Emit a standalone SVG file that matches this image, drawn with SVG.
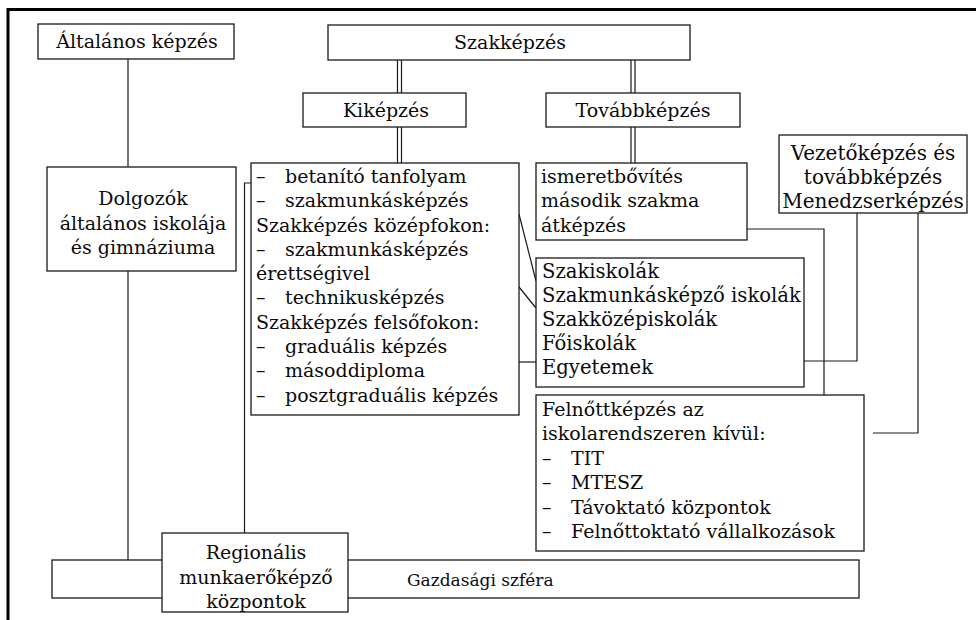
<svg xmlns="http://www.w3.org/2000/svg" width="976" height="620" viewBox="0 0 976 620">
<style>
.box{fill:#fff;stroke:#1a1a1a;stroke-width:1.3}
.ln{fill:none;stroke:#1a1a1a;stroke-width:1.2}
.frame{fill:none;stroke:#000;stroke-width:3}
text{font-family:"DejaVu Serif","Liberation Serif",serif;font-size:19px;fill:#0a0a0a}
.c{text-anchor:middle}
.l{font-size:20px}
.m{font-size:19.6px}
.s{font-size:17px}
</style>
<rect width="976" height="620" fill="#fff"/>
<path class="frame" d="M8,620 V9.5 H976"/>
<g id="connectors">
<path class="ln" d="M128,59 V167"/>
<path class="ln" d="M128,271 V560"/>
<path class="ln" d="M252,183 H244.5 V533"/>
<path class="ln" d="M397.5,60 V93 M401.5,60 V93"/>
<path class="ln" d="M397.5,127 V163 M401.5,127 V163"/>
<path class="ln" d="M631,60 V93 M635,60 V93"/>
<path class="ln" d="M631,127 V163 M635,127 V163"/>
<path class="ln" d="M519,214 L536,281"/>
<path class="ln" d="M519,287 L536,308"/>
<path class="ln" d="M519,362 H536"/>
<path class="ln" d="M747,229 H824 V395"/>
<path class="ln" d="M857,213 V361 H804"/>
<path class="ln" d="M918,213 V433 H873"/>
</g>
<g id="altalanos">
<rect class="box" x="38" y="24" width="196" height="35"/>
<text class="c" x="137" y="48">Általános képzés</text>
</g>
<g id="szakkepzes">
<rect class="box" x="328" y="25" width="362" height="35"/>
<text class="c" x="510" y="49">Szakképzés</text>
</g>
<g id="kikepzes">
<rect class="box" x="303" y="93" width="163" height="34"/>
<text class="c" x="386" y="117">Kiképzés</text>
</g>
<g id="tovabbkepzes">
<rect class="box" x="546" y="93" width="194" height="34"/>
<text class="c" x="643" y="117">Továbbképzés</text>
</g>
<g id="dolgozok">
<rect class="box" x="47" y="167" width="189" height="104"/>
<text class="c" x="143" y="205">Dolgozók</text>
<text class="c" x="143" y="230">általános iskolája</text>
<text class="c" x="143" y="254">és gimnáziuma</text>
</g>
<g id="kikepzes-lista">
<rect class="box" x="251" y="163" width="268" height="252"/>
<text x="256" y="183">–<tspan x="285">betanító tanfolyam</tspan></text>
<text x="256" y="207">–<tspan x="285">szakmunkásképzés</tspan></text>
<text x="256" y="232">Szakképzés középfokon:</text>
<text x="256" y="256">–<tspan x="285">szakmunkásképzés</tspan></text>
<text x="256" y="280">érettségivel</text>
<text x="256" y="304">–<tspan x="285">technikusképzés</tspan></text>
<text x="256" y="329">Szakképzés felsőfokon:</text>
<text x="256" y="353">–<tspan x="285">graduális képzés</tspan></text>
<text x="256" y="377">–<tspan x="285">másoddiploma</tspan></text>
<text x="256" y="402">–<tspan x="285">posztgraduális képzés</tspan></text>
</g>
<g id="tovabbkepzes-lista">
<rect class="box" x="536" y="163" width="211" height="77"/>
<text x="541" y="183">ismeretbővítés</text>
<text x="541" y="207">második szakma</text>
<text x="541" y="232">átképzés</text>
</g>
<g id="vezetokepzes">
<rect class="box" x="779" y="135" width="188" height="78"/>
<text class="c l" x="873" y="160">Vezetőképzés és</text>
<text class="c l" x="873" y="184">továbbképzés</text>
<text class="c l" x="873" y="208">Menedzserképzés</text>
</g>
<g id="iskolak">
<rect class="box" x="536" y="258" width="268" height="129"/>
<text class="m" x="542" y="278">Szakiskolák</text>
<text class="m" x="542" y="302">Szakmunkásképző iskolák</text>
<text class="m" x="542" y="326">Szakközépiskolák</text>
<text class="m" x="542" y="350">Főiskolák</text>
<text class="m" x="542" y="374">Egyetemek</text>
</g>
<g id="felnottkepzes">
<rect class="box" x="536" y="395" width="328" height="156"/>
<text x="542" y="416">Felnőttképzés az</text>
<text x="542" y="440">iskolarendszeren kívül:</text>
<text x="542" y="465">–<tspan x="571">TIT</tspan></text>
<text x="542" y="489">–<tspan x="571">MTESZ</tspan></text>
<text x="542" y="514">–<tspan x="571">Távoktató központok</tspan></text>
<text x="542" y="538">–<tspan x="571">Felnőttoktató vállalkozások</tspan></text>
</g>
<g id="gazdasagi">
<rect class="box" x="52" y="560" width="807" height="38"/>
<text class="s" x="407" y="586">Gazdasági szféra</text>
</g>
<g id="regionalis">
<rect class="box" x="162" y="533" width="186" height="79"/>
<text class="c" x="256" y="559">Regionális</text>
<text class="c" x="256" y="584">munkaerőképző</text>
<text class="c" x="256" y="608">központok</text>
</g>
</svg>
